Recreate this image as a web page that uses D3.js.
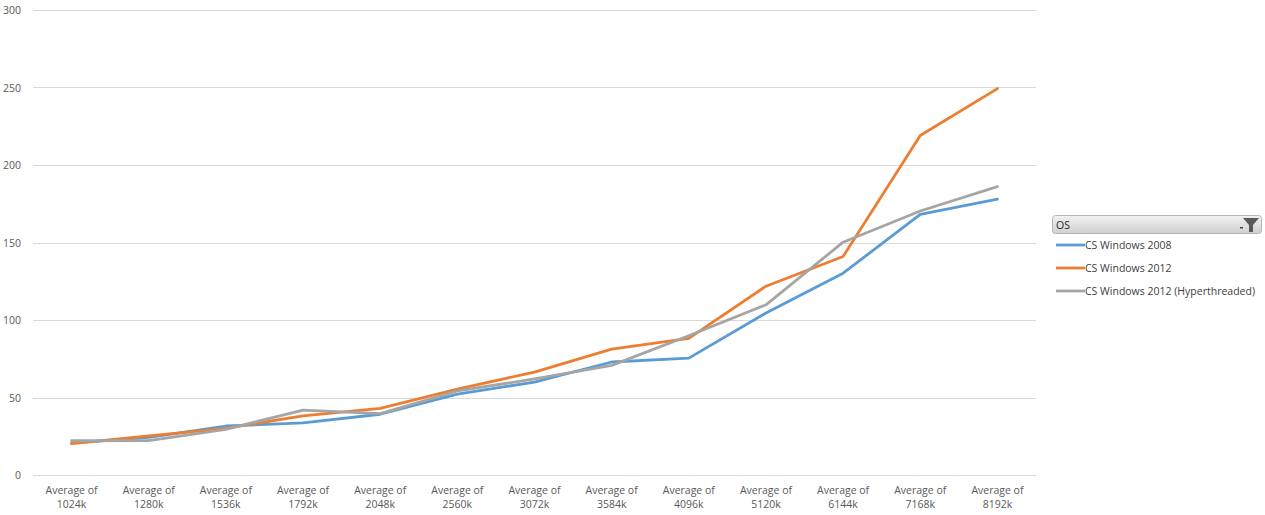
<!DOCTYPE html>
<html><head><meta charset="utf-8">
<script src="https://cdn.jsdelivr.net/npm/d3@7/dist/d3.min.js"></script>
<style>body{margin:0;background:#fff;} text{font-family:"Open Sans","DejaVu Sans",sans-serif;}</style>
</head><body>
<svg id="c" width="1265" height="515"></svg>
<script>
const categories = ["1024k","1280k","1536k","1792k","2048k","2560k","3072k","3584k","4096k","5120k","6144k","7168k","8192k"];
const win2008 = [20.6, 24.3, 31.6, 33.6, 39.2, 52.2, 59.9, 72.9, 75.4, 104.5, 130.2, 168.1, 178];
const win2012 = [20.2, 25.2, 30.1, 38.2, 43, 55.4, 66.4, 81.2, 88.2, 121.8, 141, 219, 249.3];
const win2012HT = [22.1, 22.2, 29.5, 41.9, 39.6, 54.2, 62, 70.7, 89.8, 109.8, 150.2, 170.3, 186];
const yTicks = [0, 50, 100, 150, 200, 250, 300];
const seriesNames = ["CS Windows 2008", "CS Windows 2012", "CS Windows 2012 (Hyperthreaded)"];
const seriesColors = ["#5B9BD5", "#ED7D31", "#A5A5A5"];
const seriesData = [win2008, win2012, win2012HT];

const svg = d3.select("#c");
const x = d3.scaleBand().domain(categories).range([33, 1036]);
const y = d3.scaleLinear().domain([0, 300]).range([475, 10]);

// gridlines
svg.append("g").selectAll("line").data(yTicks).join("line")
  .attr("x1", 33).attr("x2", 1036)
  .attr("y1", d => Math.round(y(d)) + 0.5).attr("y2", d => Math.round(y(d)) + 0.5)
  .attr("stroke", "#D9D9D9").attr("stroke-width", 1);

// y labels
svg.append("g").selectAll("text").data(yTicks).join("text")
  .attr("x", 21).attr("y", d => y(d) + 4)
  .attr("text-anchor", "end").attr("font-size", 10.5).attr("fill", "#595959")
  .text(d => d);

// x labels
const xl = svg.append("g").selectAll("text").data(categories).join("text")
  .attr("text-anchor", "middle").attr("font-size", 10.5).attr("fill", "#595959")
  .attr("x", d => x(d) + x.bandwidth() / 2);
xl.append("tspan").attr("x", d => x(d) + x.bandwidth() / 2).attr("y", 494).text("Average of");
xl.append("tspan").attr("x", d => x(d) + x.bandwidth() / 2).attr("y", 508).text(d => d);

// lines
const line = d3.line().x((d, i) => x(categories[i]) + x.bandwidth() / 2).y(d => y(d));
seriesData.forEach((s, k) => {
  svg.append("path").datum(s).attr("d", line)
    .attr("fill", "none").attr("stroke", seriesColors[k]).attr("stroke-width", 2.8)
    .attr("stroke-linejoin", "round").attr("stroke-linecap", "round");
});

// legend header (filter button)
const defs = svg.append("defs");
const g = defs.append("linearGradient").attr("id", "hg").attr("x1", 0).attr("y1", 0).attr("x2", 0).attr("y2", 1);
g.append("stop").attr("offset", "0%").attr("stop-color", "#F2F2F2");
g.append("stop").attr("offset", "100%").attr("stop-color", "#D0D0D0");
svg.append("rect").attr("x", 1052.5).attr("y", 215.5).attr("width", 209).attr("height", 18).attr("rx", 3)
  .attr("fill", "url(#hg)").attr("stroke", "#B4B4B4");
svg.append("text").attr("x", 1056).attr("y", 229).attr("font-size", 10.5).attr("fill", "#262626").text("OS");
// filter icon
svg.append("path").attr("d", "M1243,218 L1259,218 L1253,225 L1253,232 L1249,232 L1249,225 Z").attr("fill", "#595959");
svg.append("rect").attr("x", 1240).attr("y", 227).attr("width", 3).attr("height", 1.5).attr("fill", "#404040");

// legend items
const leg = svg.append("g").selectAll("g").data(seriesNames).join("g")
  .attr("transform", (d, i) => `translate(0, ${245 + i * 23})`);
leg.append("line").attr("x1", 1056).attr("x2", 1085).attr("y1", 0).attr("y2", 0)
  .attr("stroke", (d, i) => seriesColors[i]).attr("stroke-width", 2.8);
leg.append("text").attr("x", 1085).attr("y", 4).attr("font-size", 10.5).attr("fill", "#404040").text(d => d);
</script>
</body></html>
